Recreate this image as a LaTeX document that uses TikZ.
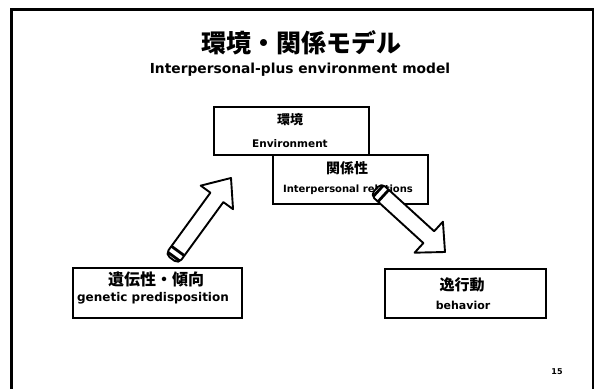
\documentclass[tikz,border=0pt]{standalone}
\usepackage{fontspec}
\newfontfamily\jp{Noto Sans CJK JP}
\newfontfamily\en{DejaVu Sans}
\usetikzlibrary{calc}
\begin{document}
\begin{tikzpicture}[x=1pt,y=-1pt,
  box/.style={draw=black,line width=2.4pt,fill=white,inner sep=0pt},
  jt/.style={font=\jp\bfseries\fontsize{13}{13}\selectfont,inner sep=0pt},
  et/.style={font=\en\bfseries\fontsize{10}{10}\selectfont,inner sep=0pt},
  blk/.style={draw=black,line width=1.9pt,fill=white,line join=round},
  band/.style={draw=black,line width=2.8pt}]
\useasboundingbox (0,0) rectangle (594,388);
\fill[white] (0,0) rectangle (594,388);
% slide frame
\draw[line width=3pt] (11,400) -- (11,9) -- (593,9) -- (593,400);
% title
\node[font=\jp\bfseries\fontsize{25}{25}\selectfont,inner sep=0pt] (title) at (301,43) {環境・関係モデル};
\node[font=\en\bfseries\fontsize{13.8}{14}\selectfont,inner sep=0pt] (subtitle) at (300,70) {Interpersonal-plus environment model};
% boxes
\node[box,anchor=north west,minimum width=155pt,minimum height=48pt] (env) at (213,106) {};
\node[box,anchor=north west,minimum width=155pt,minimum height=49pt] (rel) at (272,154) {};
\node[box,anchor=north west,minimum width=169pt,minimum height=50pt] (gen) at (72,267) {};
\node[box,anchor=north west,minimum width=161pt,minimum height=49pt] (beh) at (384,268) {};
% box texts
\node[jt] (envj) at (290,120) {環境};
\node[et,font=\en\bfseries\fontsize{10.5}{11}\selectfont] (enve) at (290,144) {Environment};
\node[jt,font=\jp\bfseries\fontsize{14}{14}\selectfont] (relj) at (347,168) {関係性};
\node[et] (rele) at (348,190) {Interpersonal relations};
\node[jt,font=\jp\bfseries\fontsize{16}{16}\selectfont] (genj) at (156,279) {遺伝性・傾向};
\node[et,font=\en\bfseries\fontsize{12}{12}\selectfont] (gene) at (153,298) {genetic predisposition};
\node[jt,font=\jp\bfseries\fontsize{15}{15}\selectfont] (behj) at (462,285) {逸行動};
\node[et,font=\en\bfseries\fontsize{11}{11}\selectfont] (behe) at (463,305) {behavior};
\node[font=\en\bfseries\fontsize{8}{8}\selectfont,inner sep=0pt] (pg) at (557,372) {15};
% up arrow (genetic -> environment)
\coordinate (upT) at (172,259);
\coordinate (upH) at (231,178);
\coordinate (upP) at ($(upH)!24pt!(upT)$);
\draw[blk] ($(upP)!8pt!90:(upH)$) -- ($(upP)!20pt!90:(upH)$) -- (upH)
  -- ($(upP)!20pt!-90:(upH)$) -- ($(upP)!8pt!-90:(upH)$)
  [rounded corners=5pt] -- ($(upT)!8pt!-90:(upH)$) -- ($(upT)!8pt!90:(upH)$) [sharp corners] -- cycle;
\coordinate (upB1) at ($(upT)!3pt!(upH)$);
\coordinate (upB2) at ($(upT)!10pt!(upH)$);
\draw[band] ($(upB1)!7pt!90:(upH)$) -- ($(upB1)!7pt!-90:(upH)$);
\draw[band] ($(upB2)!8pt!90:(upH)$) -- ($(upB2)!8pt!-90:(upH)$);
% down arrow (relations -> behavior)
\coordinate (dnT) at (376,189);
\coordinate (dnH) at (445,252);
\coordinate (dnP) at ($(dnH)!22pt!(dnT)$);
\draw[blk] ($(dnP)!8pt!90:(dnH)$) -- ($(dnP)!21pt!90:(dnH)$) -- (dnH)
  -- ($(dnP)!21pt!-90:(dnH)$) -- ($(dnP)!8pt!-90:(dnH)$)
  [rounded corners=5pt] -- ($(dnT)!8pt!-90:(dnH)$) -- ($(dnT)!8pt!90:(dnH)$) [sharp corners] -- cycle;
\coordinate (dnB1) at ($(dnT)!3pt!(dnH)$);
\coordinate (dnB2) at ($(dnT)!10pt!(dnH)$);
\draw[band] ($(dnB1)!7pt!90:(dnH)$) -- ($(dnB1)!7pt!-90:(dnH)$);
\draw[band] ($(dnB2)!8pt!90:(dnH)$) -- ($(dnB2)!8pt!-90:(dnH)$);
\end{tikzpicture}
\end{document}
